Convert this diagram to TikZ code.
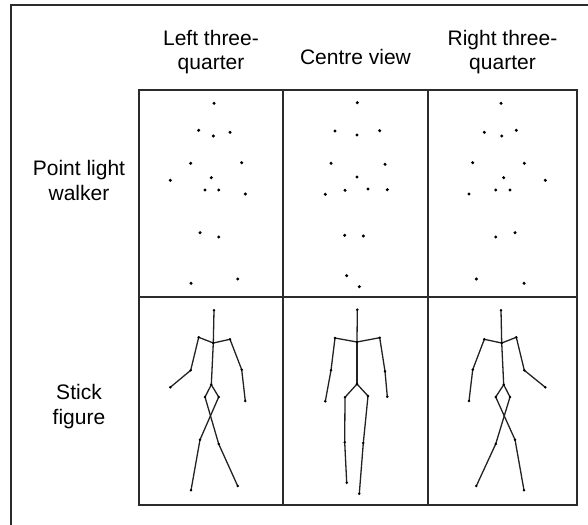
\documentclass[tikz,border=0pt]{standalone}
\usepackage{fontspec}
\setmainfont{Liberation Sans}
\definecolor{rule}{HTML}{2B2B2B}
\definecolor{bonecol}{HTML}{222222}

% joints as x/y/name, in the top row; the stick figures repeat them one row lower
\newcommand\leftview{214/103.3/head,213.3/136/neck,211.3/177.7/pelvis,
  198.7/130.3/sha,190.7/163.3/ela,170.3/180.3/wra,
  230/132.3/shb,241.7/162.7/elb,245.3/194/wrb,
  205/190/hipa,218.7/237/kna,237.7/279/ana,
  218.7/190/hipb,200/232.7/knb,191/283.3/anb}
\newcommand\centreview{357.3/102.7/head,357/135/neck,357/177/pelvis,
  335/131/sha,331/163.3/ela,325.3/194.3/wra,
  379.7/130.7/shb,385/164.3/elb,387.3/189.7/wrb,
  345/190.3/hipa,344.7/235.3/kna,346.7/275.7/ana,
  368/189/hipb,363.3/236/knb,359.3/286.7/anb}
\newcommand\rightview{501/103.3/head,501.7/136/neck,503.7/177.7/pelvis,
  484.3/132.3/sha,472.7/162.7/ela,469/194/wra,
  516.3/130.3/shb,524.3/163.3/elb,545.3/180.3/wrb,
  495.7/190/hipa,515/232.7/kna,524/283.3/ana,
  510/190/hipb,495.7/237/knb,476.3/279/anb}
\newcommand\jointnames{head,neck,pelvis,sha,ela,wra,shb,elb,wrb,
  hipa,kna,ana,hipb,knb,anb}
\newcommand\bones{head/neck,neck/pelvis,neck/sha,sha/ela,ela/wra,
  neck/shb,shb/elb,elb/wrb,pelvis/hipa,hipa/kna,kna/ana,
  pelvis/hipb,hipb/knb,knb/anb}
% #1 prefix, #2 list of joints
\newcommand\joints[2]{\foreach \x/\y/\n in #2 {\coordinate (#1-\n) at (\x,\y);}}

\begin{document}
\begin{tikzpicture}[x=1pt,y=-1pt,
  heading/.style={font=\fontsize{21}{24.5}\selectfont,align=center,anchor=base,inner sep=0pt},
  frame/.style={line width=1.6pt,draw=rule},
  cellrule/.style={line width=2pt,draw=rule},
  bone/.style={line width=1.3pt,draw=bonecol,line cap=round}]
\useasboundingbox (0,0) rectangle (588,524);

% outer frame, only its left and top edges fall on the page
\draw[frame] (11,540) -- (11,5) -- (600,5);

% the table
\draw[cellrule] (139,90) rectangle (577,505);
\foreach \x in {283,428} \draw[cellrule] (\x,90) -- (\x,505);
\draw[cellrule] (139,297) -- (577,297);

% column and row titles (base is the last line)
\node[heading] (lefthead) at (211,70) {Left three-\\quarter};
\node[heading] (centrehead) at (355.5,65) {Centre view};
\node[heading] (righthead) at (502.5,70) {Right three-\\quarter};
\node[heading] (pointrow) at (79,200) {Point light\\walker};
\node[heading] (stickrow) at (79,424) {Stick\\figure};

% point lights
\joints{pl}{\leftview}
\joints{pc}{\centreview}
\joints{pr}{\rightview}
\foreach \v in {pl,pc,pr}
  \foreach \n in \jointnames \fill (\v-\n) circle (1.7);

% stick figures, one row down
\begin{scope}[yshift=-207pt]
\joints{sl}{\leftview}
\joints{sc}{\centreview}
\joints{sr}{\rightview}
\end{scope}
\foreach \v in {sl,sc,sr} {
  \foreach \a/\b in \bones \draw[bone] (\v-\a) -- (\v-\b);
  \foreach \n in \jointnames \fill (\v-\n) circle (1.4);
}
\end{tikzpicture}
\end{document}
